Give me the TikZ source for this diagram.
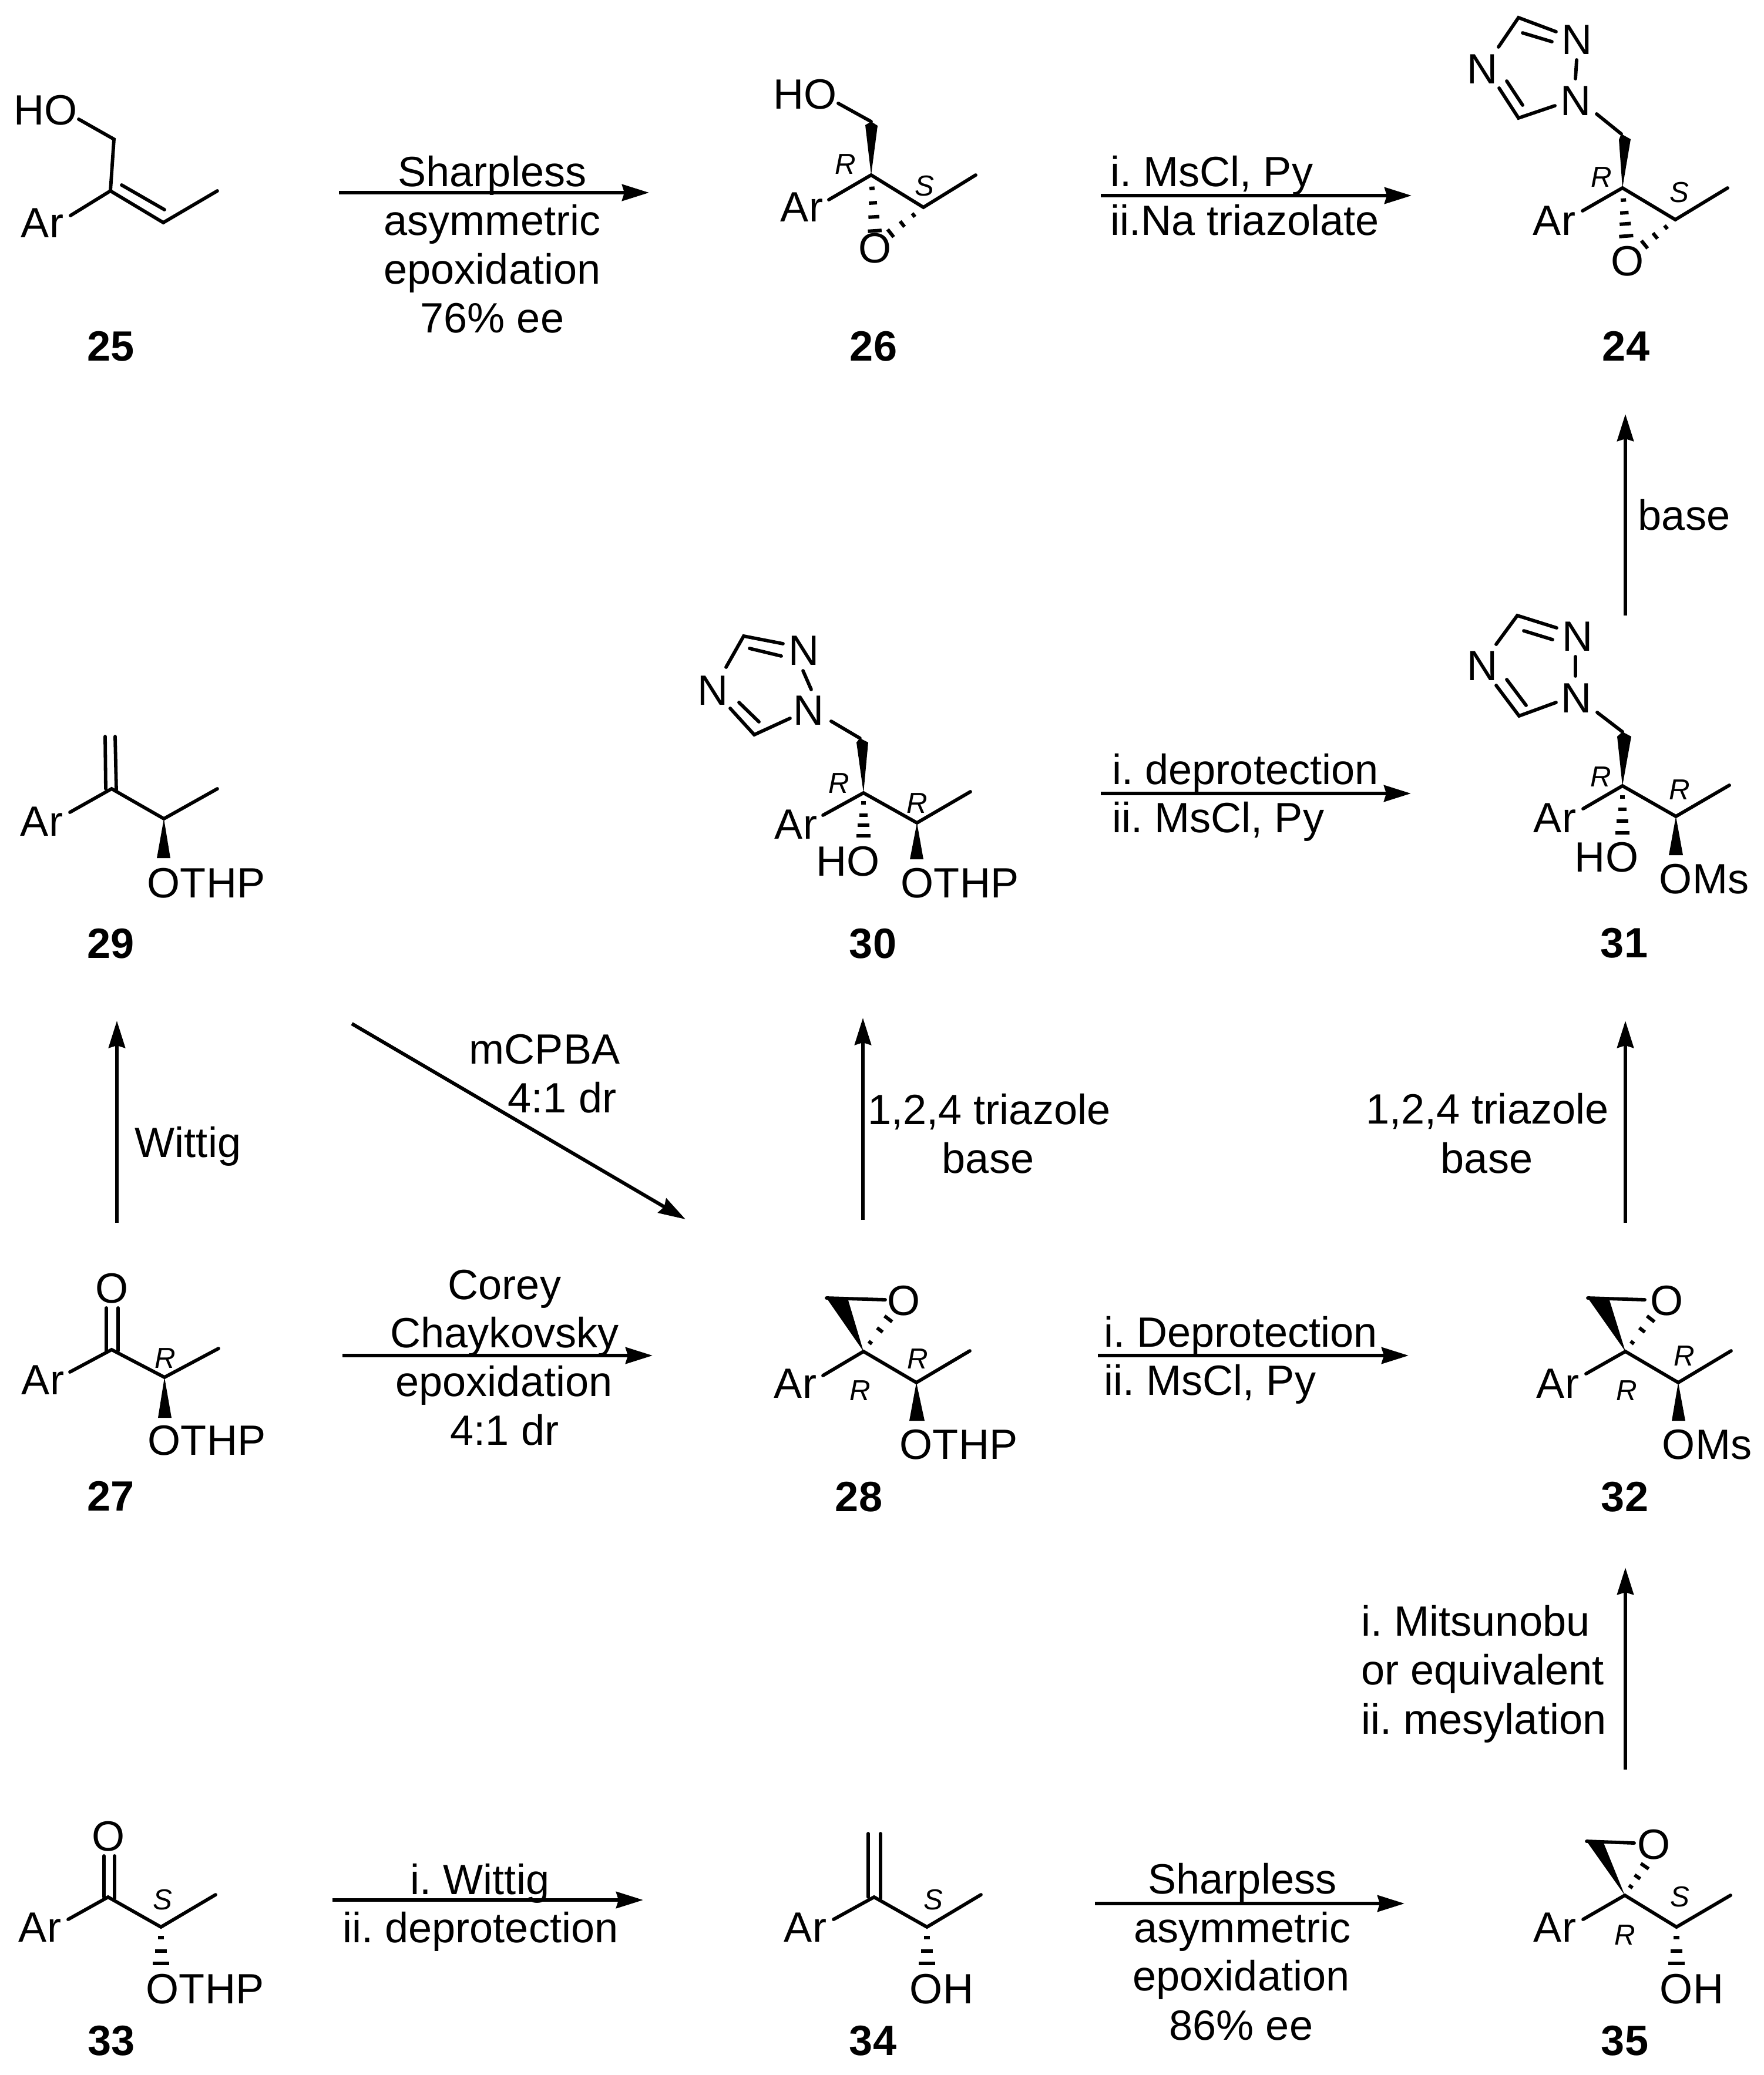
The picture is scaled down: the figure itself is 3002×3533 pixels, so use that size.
\documentclass[tikz,border=0pt]{standalone}
\usepackage{fontspec}
\setmainfont{Liberation Sans}
\frenchspacing
\usetikzlibrary{arrows.meta,calc}
\tikzset{
  bond/.style={line width=0.058cm,line cap=round,line join=miter},
  wedgebond/.style={fill=black,draw=none},
  rxnarrow/.style={line width=0.06cm,-{Stealth[length=0.46cm,width=0.28cm,inset=0.04cm]}},
  atomlab/.style={anchor=base,inner sep=0pt,font=\fontsize{20.5pt}{24pt}\selectfont},
  reagent/.style={atomlab},
  reagentleft/.style={atomlab,anchor=base west},
  cmpdlab/.style={atomlab,font=\fontsize{20.5pt}{24pt}\selectfont\bfseries},
  stereolab/.style={anchor=base,inner sep=0pt,font=\fontsize{14pt}{16pt}\selectfont\itshape}
}
% hashed bond: from #1 to #2, dashes at fractions #3, widening by #4
\newcommand{\hashbond}[4]{%
  \foreach \t in {#3} {%
    \pgfmathsetmacro{\hw}{0.02+\t*#4}%
    \draw [line width=0.06cm] ($(#1)!\t!(#2)!\hw cm!90:(#2)$) -- ($(#1)!\t!(#2)!\hw cm!-90:(#2)$);%
  }%
}
\begin{document}
\begin{tikzpicture}[x=0.01cm,y=-0.01cm]
\useasboundingbox (0,0) rectangle (3002,3533);

% Compound 25
\draw (78,212) node [atomlab] (HO25) {HO};%
\draw (72,404) node [atomlab] (Ar25) {Ar};%
\draw (189,614) node [cmpdlab] (lab25) {25};%
\coordinate (c25a) at (134,203);\coordinate (c25b) at (194,237);\coordinate (c25c) at (188,325);%
\coordinate (c25d) at (278,379);\coordinate (c25e) at (370,325);\coordinate (c25f) at (120,367);%
\coordinate (c25g) at (207,315);\coordinate (c25h) at (280,357);%
\draw [bond] (c25a) -- (c25b) -- (c25c) -- (c25d) -- (c25e);%
\draw [bond] (c25c) -- (c25f);%
\draw [bond] (c25g) -- (c25h);%

% Reaction 25 to 26
\coordinate (a1s) at (577,328);\coordinate (a1e) at (1105,328);%
\draw [rxnarrow] (a1s) -- (a1e);%
\draw (838,317) node [reagent] (t1a) {Sharpless};%
\draw (838,400) node [reagent] (t1b) {asymmetric};%
\draw (838,483) node [reagent] (t1c) {epoxidation};%
\draw (838,566) node [reagent] (t1d) {76\% ee};%

% Compound 26
\draw (1371,185) node [atomlab] (HO26) {HO};%
\draw (1365,377) node [atomlab] (Ar26) {Ar};%
\draw (1490,447) node [atomlab] (O26) {O};%
\draw (1487,614) node [cmpdlab] (lab26) {26};%
\draw (1439,296) node [stereolab] (R26) {R};%
\draw (1574,333) node [stereolab] (S26) {S};%
\coordinate (c26a) at (1427,176);\coordinate (c26b) at (1483,207);\coordinate (c26c) at (1483,298);%
\coordinate (c26d) at (1494,214);\coordinate (c26e) at (1473,213);\coordinate (c26f) at (1411,340);%
\coordinate (c26g) at (1572,353);\coordinate (c26h) at (1661,298);%
\coordinate (c26i) at (1490,406);\coordinate (c26j) at (1510,402);%
\draw [bond] (c26a) -- (c26b);%
\fill [wedgebond] (c26c) -- (c26d) -- (c26b) -- (c26e) -- cycle;%
\draw [bond] (c26f) -- (c26c) -- (c26g) -- (c26h);%
\hashbond{c26c}{c26i}{.21,.44,.66,.88}{0.11}%
\hashbond{c26g}{c26j}{.27,.58,.9}{0.07}%

% Reaction 26 to 24
\coordinate (a2s) at (1874,333);\coordinate (a2e) at (2403,333);%
\draw [rxnarrow] (a2s) -- (a2e);%
\draw (1890,317) node [reagentleft] (t2a) {i. MsCl, Py};%
\draw (1890,400) node [reagentleft] (t2b) {ii.Na triazolate};%

% Compound 24
\draw (2684,92) node [atomlab] (Na24) {N};%
\draw (2682,196) node [atomlab] (Nb24) {N};%
\draw (2523,142) node [atomlab] (Nc24) {N};%
\draw (2646,400) node [atomlab] (Ar24) {Ar};%
\draw (2771,469) node [atomlab] (O24) {O};%
\draw (2768,614) node [cmpdlab] (lab24) {24};%
\draw (2726,318) node [stereolab] (R24) {R};%
\draw (2859,344) node [stereolab] (S24) {S};%
\coordinate (c24a) at (2585,30);\coordinate (c24b) at (2649,54);\coordinate (c24c) at (2592,56);%
\coordinate (c24d) at (2642,71);\coordinate (c24e) at (2551,80);\coordinate (c24f) at (2684,102);%
\coordinate (c24g) at (2682,134);\coordinate (c24h) at (2585,201);\coordinate (c24i) at (2647,180);%
\coordinate (c24j) at (2552,150);\coordinate (c24k) at (2565,138);\coordinate (c24l) at (2592,179);%
\coordinate (c24m) at (2718,194);\coordinate (c24n) at (2760,228);\coordinate (c24o) at (2762,320);%
\coordinate (c24p) at (2776,237);\coordinate (c24q) at (2756,238);\coordinate (c24r) at (2694,359);%
\coordinate (c24s) at (2852,374);\coordinate (c24t) at (2941,320);\coordinate (c24u) at (2769,410);%
\coordinate (c24v) at (2795,420);%
\draw [bond] (c24e) -- (c24a) -- (c24b);%
\draw [bond] (c24c) -- (c24d);%
\draw [bond] (c24f) -- (c24g);%
\draw [bond] (c24j) -- (c24h) -- (c24i);%
\draw [bond] (c24k) -- (c24l);%
\draw [bond] (c24m) -- (c24n);%
\fill [wedgebond] (c24o) -- (c24p) -- (c24n) -- (c24q) -- cycle;%
\draw [bond] (c24r) -- (c24o) -- (c24s) -- (c24t);%
\hashbond{c24o}{c24u}{.23,.47,.68,.91}{0.11}%
\hashbond{c24s}{c24v}{.28,.6,.92}{0.07}%

% Reaction 31 to 24
\coordinate (a3s) at (2767,1048);\coordinate (a3e) at (2767,705);%
\draw [rxnarrow] (a3s) -- (a3e);%
\draw (2867,902) node [reagent] (t3a) {base};%

% Compound 29
\draw (71,1423) node [atomlab] (Ar29) {Ar};%
\draw (351,1528) node [atomlab] (OTHP29) {OTHP};%
\draw (189,1631) node [cmpdlab] (lab29) {29};%
\coordinate (c29a) at (190,1343);\coordinate (c29b) at (179,1254);\coordinate (c29c) at (180,1343);%
\coordinate (c29d) at (196,1254);\coordinate (c29e) at (198,1345);\coordinate (c29f) at (119,1383);%
\coordinate (c29g) at (279,1394);\coordinate (c29h) at (370,1343);%
\coordinate (c29i) at (290,1461);\coordinate (c29j) at (267,1461);%
\draw [bond] (c29b) -- (c29c);%
\draw [bond] (c29d) -- (c29e);%
\draw [bond] (c29f) -- (c29a) -- (c29g) -- (c29h);%
\fill [wedgebond] (c29g) -- (c29i) -- (c29j) -- cycle;%

% Compound 30
\draw (1369,1132) node [atomlab] (Na30) {N};%
\draw (1377,1234) node [atomlab] (Nb30) {N};%
\draw (1214,1200) node [atomlab] (Nc30) {N};%
\draw (1355,1428) node [atomlab] (Ar30) {Ar};%
\draw (1444,1491) node [atomlab] (HO30) {HO};%
\draw (1634,1528) node [atomlab] (OTHP30) {OTHP};%
\draw (1486,1631) node [cmpdlab] (lab30) {30};%
\draw (1428,1350) node [stereolab] (Ra30) {R};%
\draw (1561,1384) node [stereolab] (Rb30) {R};%
\coordinate (c30a) at (1266,1083);\coordinate (c30b) at (1333,1096);\coordinate (c30c) at (1276,1104);%
\coordinate (c30d) at (1330,1117);\coordinate (c30e) at (1236,1136);\coordinate (c30f) at (1367,1142);%
\coordinate (c30g) at (1381,1174);\coordinate (c30h) at (1284,1251);\coordinate (c30i) at (1345,1223);%
\coordinate (c30j) at (1243,1206);\coordinate (c30k) at (1258,1196);\coordinate (c30l) at (1292,1229);%
\coordinate (c30m) at (1415,1228);\coordinate (c30n) at (1464,1257);\coordinate (c30o) at (1470,1350);%
\coordinate (c30p) at (1478,1264);\coordinate (c30q) at (1458,1264);\coordinate (c30r) at (1401,1388);%
\coordinate (c30s) at (1561,1401);\coordinate (c30t) at (1652,1348);\coordinate (c30u) at (1470,1430);%
\coordinate (c30v) at (1572,1463);\coordinate (c30w) at (1549,1463);%
\draw [bond] (c30e) -- (c30a) -- (c30b);%
\draw [bond] (c30c) -- (c30d);%
\draw [bond] (c30f) -- (c30g);%
\draw [bond] (c30j) -- (c30h) -- (c30i);%
\draw [bond] (c30k) -- (c30l);%
\draw [bond] (c30m) -- (c30n);%
\fill [wedgebond] (c30o) -- (c30p) -- (c30n) -- (c30q) -- cycle;%
\draw [bond] (c30r) -- (c30o) -- (c30s) -- (c30t);%
\hashbond{c30o}{c30u}{.21,.47,.69,.91}{0.11}%
\fill [wedgebond] (c30s) -- (c30v) -- (c30w) -- cycle;%

% Reaction 30 to 31
\coordinate (a4s) at (1874,1351);\coordinate (a4e) at (2402,1351);%
\draw [rxnarrow] (a4s) -- (a4e);%
\draw (1893,1335) node [reagentleft] (t4a) {i. deprotection};%
\draw (1893,1417) node [reagentleft] (t4b) {ii. MsCl, Py};%

% Compound 31
\draw (2685,1108) node [atomlab] (Na31) {N};%
\draw (2683,1213) node [atomlab] (Nb31) {N};%
\draw (2523,1158) node [atomlab] (Nc31) {N};%
\draw (2647,1417) node [atomlab] (Ar31) {Ar};%
\draw (2735,1484) node [atomlab] (HO31) {HO};%
\draw (2901,1521) node [atomlab] (OMs31) {OMs};%
\draw (2765,1630) node [cmpdlab] (lab31) {31};%
\draw (2725,1339) node [stereolab] (Ra31) {R};%
\draw (2859,1361) node [stereolab] (Rb31) {R};%
\coordinate (c31a) at (2583,1048);\coordinate (c31b) at (2650,1069);\coordinate (c31c) at (2594,1074);%
\coordinate (c31d) at (2643,1089);\coordinate (c31e) at (2547,1097);\coordinate (c31f) at (2682,1118);%
\coordinate (c31g) at (2682,1151);\coordinate (c31h) at (2586,1219);\coordinate (c31i) at (2649,1196);%
\coordinate (c31j) at (2547,1167);\coordinate (c31k) at (2565,1157);\coordinate (c31l) at (2598,1201);%
\coordinate (c31m) at (2719,1213);\coordinate (c31n) at (2762,1246);\coordinate (c31o) at (2762,1338);%
\coordinate (c31p) at (2777,1254);\coordinate (c31q) at (2753,1254);\coordinate (c31r) at (2695,1377);%
\coordinate (c31s) at (2853,1390);\coordinate (c31t) at (2944,1337);\coordinate (c31u) at (2762,1425);%
\coordinate (c31v) at (2865,1456);\coordinate (c31w) at (2841,1456);%
\draw [bond] (c31e) -- (c31a) -- (c31b);%
\draw [bond] (c31c) -- (c31d);%
\draw [bond] (c31f) -- (c31g);%
\draw [bond] (c31j) -- (c31h) -- (c31i);%
\draw [bond] (c31k) -- (c31l);%
\draw [bond] (c31m) -- (c31n);%
\fill [wedgebond] (c31o) -- (c31p) -- (c31n) -- (c31q) -- cycle;%
\draw [bond] (c31r) -- (c31o) -- (c31s) -- (c31t);%
\hashbond{c31o}{c31u}{.22,.46,.69,.92}{0.11}%
\fill [wedgebond] (c31s) -- (c31v) -- (c31w) -- cycle;%

% Reaction 27 to 29
\coordinate (a5s) at (199,2082);\coordinate (a5e) at (199,1738);%
\draw [rxnarrow] (a5s) -- (a5e);%
\draw (320,1970) node [reagent] (t5a) {Wittig};%

% Reaction 29 to 28
\coordinate (a6s) at (599,1743);\coordinate (a6e) at (1167,2076);%
\draw [rxnarrow] (a6s) -- (a6e);%
\draw (927,1811) node [reagent] (t6a) {mCPBA};%
\draw (957,1894) node [reagent] (t6b) {4:1 dr};%

% Reaction 28 to 30
\coordinate (a7s) at (1469,2077);\coordinate (a7e) at (1469,1733);%
\draw [rxnarrow] (a7s) -- (a7e);%
\draw (1684,1914) node [reagent] (t7a) {1,2,4 triazole};%
\draw (1682,1997) node [reagent] (t7b) {base};%

% Reaction 32 to 31
\coordinate (a8s) at (2767,2082);\coordinate (a8e) at (2767,1738);%
\draw [rxnarrow] (a8s) -- (a8e);%
\draw (2532,1913) node [reagent] (t8a) {1,2,4 triazole};%
\draw (2531,1997) node [reagent] (t8b) {base};%

% Compound 27
\draw (191,2218) node [atomlab] (O27) {O};%
\draw (73,2374) node [atomlab] (Ar27) {Ar};%
\draw (352,2477) node [atomlab] (OTHP27) {OTHP};%
\draw (189,2572) node [cmpdlab] (lab27) {27};%
\draw (281,2329) node [stereolab] (R27) {R};%
\coordinate (c27a) at (190,2298);\coordinate (c27b) at (181,2227);\coordinate (c27c) at (181,2300);%
\coordinate (c27d) at (201,2227);\coordinate (c27e) at (201,2300);\coordinate (c27f) at (119,2336);%
\coordinate (c27g) at (280,2345);\coordinate (c27h) at (372,2296);%
\coordinate (c27i) at (292,2414);\coordinate (c27j) at (269,2414);%
\draw [bond] (c27b) -- (c27c);%
\draw [bond] (c27d) -- (c27e);%
\draw [bond] (c27f) -- (c27a) -- (c27g) -- (c27h);%
\fill [wedgebond] (c27g) -- (c27i) -- (c27j) -- cycle;%

% Reaction 27 to 28
\coordinate (a9s) at (583,2308);\coordinate (a9e) at (1111,2308);%
\draw [rxnarrow] (a9s) -- (a9e);%
\draw (859,2212) node [reagent] (t9a) {Corey};%
\draw (859,2294) node [reagent] (t9b) {Chaykovsky};%
\draw (858,2377) node [reagent] (t9c) {epoxidation};%
\draw (859,2460) node [reagent] (t9d) {4:1 dr};%

% Compound 28
\draw (1539,2239) node [atomlab] (O28) {O};%
\draw (1354,2380) node [atomlab] (Ar28) {Ar};%
\draw (1632,2484) node [atomlab] (OTHP28) {OTHP};%
\draw (1462,2573) node [cmpdlab] (lab28) {28};%
\draw (1562,2330) node [stereolab] (Ra28) {R};%
\draw (1464,2384) node [stereolab] (Rb28) {R};%
\coordinate (c28a) at (1470,2301);\coordinate (c28b) at (1407,2210);\coordinate (c28c) at (1444,2214);%
\coordinate (c28d) at (1507,2213);\coordinate (c28e) at (1401,2342);\coordinate (c28f) at (1560,2354);%
\coordinate (c28g) at (1651,2300);\coordinate (c28h) at (1574,2419);\coordinate (c28i) at (1548,2419);%
\coordinate (c28j) at (1518,2238);%
\fill [wedgebond] (c28a) -- (c28c) -- (c28b) -- cycle;%
\draw [bond] (c28b) -- (c28d);%
\draw [bond] (c28e) -- (c28a) -- (c28f) -- (c28g);%
\fill [wedgebond] (c28f) -- (c28h) -- (c28i) -- cycle;%
\hashbond{c28a}{c28j}{.24,.58,.88}{0.07}%

% Reaction 28 to 32
\coordinate (a10s) at (1869,2308);\coordinate (a10e) at (2398,2308);%
\draw [rxnarrow] (a10s) -- (a10e);%
\draw (1879,2293) node [reagentleft] (t10a) {i. Deprotection};%
\draw (1879,2375) node [reagentleft] (t10b) {ii. MsCl, Py};%

% Compound 32
\draw (2837,2239) node [atomlab] (O32) {O};%
\draw (2652,2380) node [atomlab] (Ar32) {Ar};%
\draw (2906,2484) node [atomlab] (OMs32) {OMs};%
\draw (2766,2573) node [cmpdlab] (lab32) {32};%
\draw (2867,2325) node [stereolab] (Ra32) {R};%
\draw (2769,2384) node [stereolab] (Rb32) {R};%
\coordinate (c32a) at (2767,2301);\coordinate (c32b) at (2703,2210);\coordinate (c32c) at (2740,2214);%
\coordinate (c32d) at (2800,2213);\coordinate (c32e) at (2700,2339);\coordinate (c32f) at (2857,2354);%
\coordinate (c32g) at (2947,2300);\coordinate (c32h) at (2869,2419);\coordinate (c32i) at (2846,2419);%
\coordinate (c32j) at (2816,2238);%
\fill [wedgebond] (c32a) -- (c32c) -- (c32b) -- cycle;%
\draw [bond] (c32b) -- (c32d);%
\draw [bond] (c32e) -- (c32a) -- (c32f) -- (c32g);%
\fill [wedgebond] (c32f) -- (c32h) -- (c32i) -- cycle;%
\hashbond{c32a}{c32j}{.24,.58,.88}{0.07}%

% Reaction 35 to 32
\coordinate (a11s) at (2767,3013);\coordinate (a11e) at (2767,2669);%
\draw [rxnarrow] (a11s) -- (a11e);%
\draw (2317,2785) node [reagentleft] (t11a) {i. Mitsunobu};%
\draw (2317,2868) node [reagentleft] (t11b) {or equivalent};%
\draw (2317,2952) node [reagentleft] (t11c) {ii. mesylation};%

% Compound 33
\draw (185,3151) node [atomlab] (O33) {O};%
\draw (68,3306) node [atomlab] (Ar33) {Ar};%
\draw (349,3411) node [atomlab] (OTHP33) {OTHP};%
\draw (190,3499) node [cmpdlab] (lab33) {33};%
\draw (277,3251) node [stereolab] (S33) {S};%
\coordinate (c33a) at (184,3230);\coordinate (c33b) at (177,3160);\coordinate (c33c) at (177,3230);%
\coordinate (c33d) at (195,3160);\coordinate (c33e) at (195,3232);\coordinate (c33f) at (116,3268);%
\coordinate (c33g) at (274,3281);\coordinate (c33h) at (367,3226);\coordinate (c33i) at (274,3350);%
\draw [bond] (c33b) -- (c33c);%
\draw [bond] (c33d) -- (c33e);%
\draw [bond] (c33f) -- (c33a) -- (c33g) -- (c33h);%
\hashbond{c33g}{c33i}{.26,.59,.9}{0.13}%

% Reaction 33 to 34
\coordinate (a12s) at (566,3235);\coordinate (a12e) at (1095,3235);%
\draw [rxnarrow] (a12s) -- (a12e);%
\draw (817,3225) node [reagent] (t12a) {i. Wittig};%
\draw (818,3307) node [reagent] (t12b) {ii. deprotection};%

% Compound 34
\draw (1371,3306) node [atomlab] (Ar34) {Ar};%
\draw (1603,3411) node [atomlab] (OH34) {OH};%
\draw (1486,3499) node [cmpdlab] (lab34) {34};%
\draw (1589,3251) node [stereolab] (S34) {S};%
\coordinate (c34a) at (1488,3230);\coordinate (c34b) at (1478,3122);\coordinate (c34c) at (1478,3230);%
\coordinate (c34d) at (1499,3122);\coordinate (c34e) at (1499,3232);\coordinate (c34f) at (1419,3268);%
\coordinate (c34g) at (1578,3281);\coordinate (c34h) at (1670,3226);\coordinate (c34i) at (1578,3350);%
\draw [bond] (c34b) -- (c34c);%
\draw [bond] (c34d) -- (c34e);%
\draw [bond] (c34f) -- (c34a) -- (c34g) -- (c34h);%
\hashbond{c34g}{c34i}{.26,.59,.9}{0.13}%

% Reaction 34 to 35
\coordinate (a13s) at (1864,3241);\coordinate (a13e) at (2391,3241);%
\draw [rxnarrow] (a13s) -- (a13e);%
\draw (2115,3224) node [reagent] (t13a) {Sharpless};%
\draw (2115,3307) node [reagent] (t13b) {asymmetric};%
\draw (2113,3389) node [reagent] (t13c) {epoxidation};%
\draw (2113,3473) node [reagent] (t13d) {86\% ee};%

% Compound 35
\draw (2816,3165) node [atomlab] (O35) {O};%
\draw (2647,3306) node [atomlab] (Ar35) {Ar};%
\draw (2880,3411) node [atomlab] (OH35) {OH};%
\draw (2766,3499) node [cmpdlab] (lab35) {35};%
\draw (2860,3246) node [stereolab] (S35) {S};%
\draw (2766,3311) node [stereolab] (R35) {R};%
\coordinate (c35a) at (2766,3227);\coordinate (c35b) at (2701,3135);\coordinate (c35c) at (2730,3138);%
\coordinate (c35d) at (2782,3138);\coordinate (c35e) at (2695,3268);\coordinate (c35f) at (2854,3281);%
\coordinate (c35g) at (2946,3227);\coordinate (c35h) at (2854,3350);\coordinate (c35i) at (2805,3170);%
\fill [wedgebond] (c35a) -- (c35c) -- (c35b) -- cycle;%
\draw [bond] (c35b) -- (c35d);%
\draw [bond] (c35e) -- (c35a) -- (c35f) -- (c35g);%
\hashbond{c35a}{c35i}{.26,.55,.87}{0.07}%
\hashbond{c35f}{c35h}{.26,.59,.9}{0.13}%
\end{tikzpicture}
\end{document}
